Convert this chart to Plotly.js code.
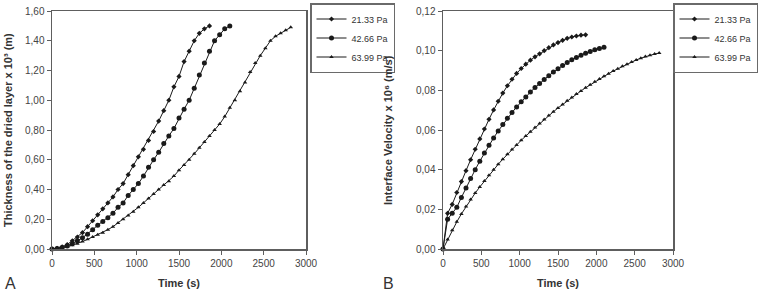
<!DOCTYPE html>
<html>
<head>
<meta charset="utf-8">
<script src="https://cdn.plot.ly/plotly-3.0.1.min.js"></script>
<style>html,body{margin:0;padding:0;background:#fff;}#chart{width:758px;height:293px;}</style>
</head>
<body>
<div id="chart"></div>
<script>
// ---- data (time step 60 s) ----
const seriesNames = ["21.33 Pa", "42.66 Pa", "63.99 Pa"];

// Panel A: thickness of the dried layer x 10^3 (m)
const thick21 = [0,0.005,0.015,0.03,0.055,0.08,0.11,0.15,0.19,0.23,0.27,0.31,0.35,0.40,0.44,0.50,0.56,0.62,0.67,0.73,0.79,0.86,0.93,1.00,1.09,1.16,1.26,1.33,1.40,1.45,1.48,1.50];
const thick42 = [0,0.003,0.01,0.02,0.035,0.055,0.075,0.10,0.13,0.16,0.185,0.21,0.24,0.28,0.31,0.36,0.40,0.44,0.49,0.55,0.60,0.65,0.71,0.76,0.81,0.88,0.94,1.00,1.08,1.17,1.25,1.33,1.40,1.44,1.48,1.50];
const thick63 = [0,0.003,0.008,0.015,0.025,0.035,0.05,0.065,0.08,0.095,0.11,0.13,0.15,0.175,0.20,0.225,0.25,0.28,0.31,0.34,0.37,0.40,0.43,0.455,0.49,0.53,0.565,0.60,0.64,0.68,0.72,0.76,0.80,0.84,0.89,0.95,1.00,1.06,1.12,1.19,1.25,1.30,1.35,1.40,1.43,1.45,1.47,1.49];

// Panel B: interface velocity x 10^6 (m/s)
const vel21 = [0,0.018,0.0225,0.0285,0.034,0.0395,0.045,0.0503,0.0555,0.0605,0.0654,0.0701,0.0745,0.0786,0.0823,0.0856,0.0885,0.091,0.0932,0.0952,0.0969,0.0984,0.1,0.1015,0.1029,0.1041,0.1052,0.1062,0.1069,0.1074,0.1078,0.108];
const vel42 = [0,0.015,0.018,0.021,0.026,0.0308,0.0355,0.04,0.0443,0.0484,0.0523,0.056,0.0595,0.0628,0.0659,0.0688,0.0716,0.0742,0.0767,0.0791,0.0814,0.0835,0.0855,0.0874,0.0892,0.0909,0.0925,0.094,0.0954,0.0966,0.0977,0.0987,0.0996,0.1004,0.1011,0.1017];
const vel63 = [0,0.0048,0.0094,0.0137,0.0177,0.0214,0.0249,0.0282,0.0313,0.0343,0.0372,0.04,0.0427,0.0453,0.0478,0.0502,0.0525,0.0548,0.057,0.0591,0.0612,0.0633,0.0653,0.0673,0.0692,0.0711,0.0729,0.0747,0.0764,0.0781,0.0797,0.0813,0.0828,0.0843,0.0857,0.0871,0.0884,0.0897,0.0909,0.0921,0.0932,0.0943,0.0953,0.0962,0.097,0.0977,0.0983,0.0988];

const timeStep = 60;
const times = arr => arr.map((_, i) => i * timeStep);

const symbols = ["diamond", "circle", "triangle-up"];
const sizes = [4, 5, 4];
const ink = "#1a1a1a";
const FONT = "Liberation Sans, Arial, sans-serif";

function mk(y, k, xa, ya, lg) {
  return {
    x: times(y), y: y, name: seriesNames[k], type: "scatter", mode: "lines+markers",
    xaxis: xa, yaxis: ya, legend: lg, cliponaxis: false,
    line: {color: ink, width: 1},
    marker: {symbol: symbols[k], size: sizes[k], color: ink}
  };
}

const data = [
  mk(thick21, 0, "x", "y", "legend"),
  mk(thick42, 1, "x", "y", "legend"),
  mk(thick63, 2, "x", "y", "legend"),
  mk(vel21, 0, "x2", "y2", "legend2"),
  mk(vel42, 1, "x2", "y2", "legend2"),
  mk(vel63, 2, "x2", "y2", "legend2")
];

const W = 758, H = 293;
const frame = "#5e5e5e";
const tickFont = {family: FONT, size: 10, color: "#444"};
const titleFont = {family: FONT, size: 11, color: "#333", weight: "bold"};

function xax(d0, d1, anchor) {
  return {
    domain: [d0 / W, d1 / W], anchor: anchor, range: [0, 3000], dtick: 500, tick0: 0,
    showgrid: false, zeroline: false, showline: true, mirror: true, linecolor: frame, linewidth: 1.5,
    ticks: "outside", ticklen: 4, tickcolor: frame, tickfont: tickFont, tickformat: "d",
    automargin: false,
    title: {text: "Time (s)", font: titleFont, standoff: 12}
  };
}
function yax(range, dtick, anchor) {
  return {
    domain: [1 - 249 / H, 1 - 11 / H], anchor: anchor, range: range, dtick: dtick, tick0: 0,
    showgrid: false, zeroline: false, showline: true, mirror: true, linecolor: frame, linewidth: 1.5,
    ticks: "outside", ticklen: 4, tickcolor: frame, tickfont: tickFont, tickformat: ".2f",
    automargin: false
  };
}
function leg(xpx, anchor) {
  return {
    x: xpx / W, xanchor: anchor, y: 1 - 3 / H, yanchor: "top",
    bgcolor: "#fff", bordercolor: "#6a6a6a", borderwidth: 1.5,
    font: {family: FONT, size: 9, color: "#333"},
    itemwidth: 30, tracegroupgap: 0
  };
}

const yTitle = (text, xpx) => ({
  text: text, x: xpx / W, y: 1 - 130 / H, xref: "paper", yref: "paper",
  xanchor: "center", yanchor: "middle", textangle: -90, showarrow: false, font: titleFont
});
const letter = (text, xpx) => ({
  text: text, x: xpx / W, y: 1 - 283 / H, xref: "paper", yref: "paper",
  xanchor: "center", yanchor: "middle", showarrow: false, font: {family: FONT, size: 16, color: "#333"}
});

const layout = {
  width: W, height: H,
  margin: {l: 0, r: 0, t: 0, b: 0, autoexpand: false},
  paper_bgcolor: "#fff", plot_bgcolor: "#fff",
  separators: ",.",
  showlegend: true,
  font: {family: FONT, color: "#333"},
  xaxis: xax(52, 306, "y"),
  yaxis: yax([0, 1.6], 0.2, "x"),
  xaxis2: xax(443, 673, "y2"),
  yaxis2: yax([0, 0.12], 0.02, "x2"),
  legend: leg(310, "left"),
  legend2: leg(758, "right"),
  annotations: [
    yTitle("Thickness of the dried layer x 10³ (m)", 8),
    yTitle("Interface Velocity x 10⁶ (m/s)", 388),
    letter("A", 10),
    letter("B", 388)
  ]
};

Plotly.newPlot("chart", data, layout, {displayModeBar: false, staticPlot: true});
</script>
</body>
</html>
